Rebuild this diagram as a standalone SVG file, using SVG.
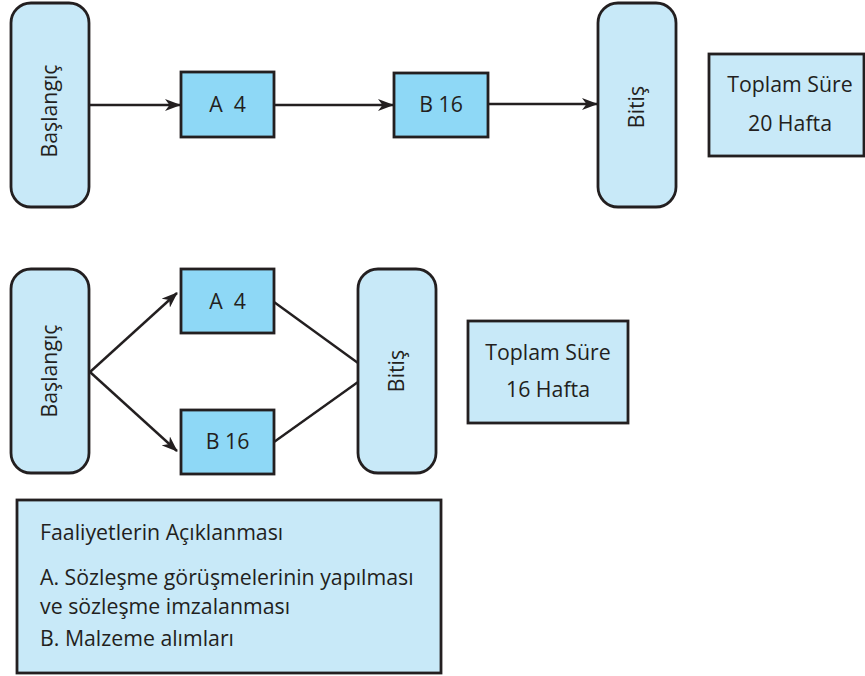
<svg xmlns="http://www.w3.org/2000/svg" width="865" height="676" viewBox="0 0 865 676">
  <style>
    .term { fill: #c8e9f8; stroke: #231f20; stroke-width: 2.8; }
    .act { fill: #8ed8f6; stroke: #231f20; stroke-width: 2.8; }
    .info { fill: #c8e9f8; stroke: #231f20; stroke-width: 2.8; }
    .lbl { font-family: "Open Sans", "Liberation Sans", sans-serif; font-size: 21.3px; fill: #231f20; }
    .mid { text-anchor: middle; }
    .edge { stroke: #231f20; stroke-width: 2.4; fill: none; }
  </style>
  <defs>
    <marker id="arrow" viewBox="0 0 16 12" refX="15" refY="6" markerWidth="16" markerHeight="12" markerUnits="userSpaceOnUse" orient="auto">
      <path d="M0,0 L16,6 L0,12 L4.5,6 Z" fill="#231f20"/>
    </marker>
  </defs>

  <!-- Sequential plan -->
  <g id="start1">
    <rect class="term" x="11" y="3" width="78" height="204" rx="20"/>
    <text class="lbl mid" transform="translate(57,111) rotate(-90)">Başlangıç</text>
  </g>
  <g id="a1">
    <rect class="act" x="181" y="72" width="93" height="65"/>
    <text class="lbl mid" x="227.5" y="112" xml:space="preserve">A  4</text>
  </g>
  <g id="b1">
    <rect class="act" x="394" y="73" width="94" height="64"/>
    <text class="lbl mid" x="441" y="112">B 16</text>
  </g>
  <g id="end1">
    <rect class="term" x="598" y="3" width="78" height="204" rx="20"/>
    <text class="lbl mid" transform="translate(644,107) rotate(-90)">Bitiş</text>
  </g>
  <g id="total1">
    <rect class="info" x="709" y="54" width="155" height="102"/>
    <text class="lbl mid" x="790" y="92">Toplam Süre</text>
    <text class="lbl mid" x="790" y="131">20 Hafta</text>
  </g>

  <!-- Parallel plan -->
  <g id="start2">
    <rect class="term" x="11" y="269" width="78" height="204" rx="20"/>
    <text class="lbl mid" transform="translate(57,371) rotate(-90)">Başlangıç</text>
  </g>
  <g id="a2">
    <rect class="act" x="181" y="269" width="93" height="64"/>
    <text class="lbl mid" x="227.5" y="309" xml:space="preserve">A  4</text>
  </g>
  <g id="b2">
    <rect class="act" x="181" y="410" width="93" height="64"/>
    <text class="lbl mid" x="227.5" y="449">B 16</text>
  </g>
  <g id="end2">
    <rect class="term" x="358" y="269" width="78" height="204" rx="20"/>
    <text class="lbl mid" transform="translate(404,371) rotate(-90)">Bitiş</text>
  </g>
  <g id="total2">
    <rect class="info" x="468" y="321" width="160" height="102"/>
    <text class="lbl mid" x="548" y="360">Toplam Süre</text>
    <text class="lbl mid" x="548" y="397">16 Hafta</text>
  </g>

  <!-- Activity descriptions -->
  <g id="legend">
    <rect class="info" x="17" y="500" width="424" height="173"/>
    <text class="lbl" x="40" y="540">Faaliyetlerin Açıklanması</text>
    <text class="lbl" x="40" y="585">A. Sözleşme görüşmelerinin yapılması<tspan x="40" dy="29">ve sözleşme imzalanması</tspan></text>
    <text class="lbl" x="40" y="646">B. Malzeme alımları</text>
  </g>

  <g id="connectors">
    <line class="edge" x1="89" y1="105" x2="180" y2="105" marker-end="url(#arrow)"/>
    <line class="edge" x1="274" y1="105" x2="393" y2="105" marker-end="url(#arrow)"/>
    <line class="edge" x1="488" y1="104" x2="597" y2="104" marker-end="url(#arrow)"/>
    <line class="edge" x1="90" y1="372" x2="177" y2="293" marker-end="url(#arrow)"/>
    <line class="edge" x1="90" y1="372" x2="177" y2="451" marker-end="url(#arrow)"/>
    <line class="edge" x1="274" y1="302" x2="358" y2="363"/>
    <line class="edge" x1="274" y1="442" x2="358" y2="382"/>
  </g>
</svg>
